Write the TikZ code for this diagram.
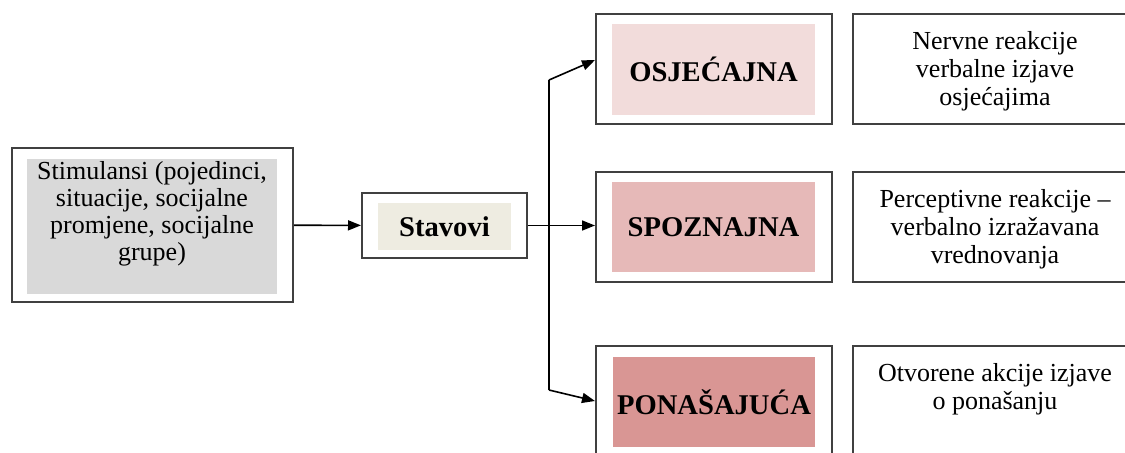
\documentclass[tikz,border=0pt]{standalone}
\usepackage{fontspec}
\setmainfont{Liberation Serif}
\usetikzlibrary{arrows.meta}
\definecolor{frameGray}{HTML}{404040}
\definecolor{stimFill}{HTML}{D9D9D9}
\definecolor{stavFill}{HTML}{EEECE1}
\definecolor{osjFill}{HTML}{F2DCDB}
\definecolor{spozFill}{HTML}{E6B9B8}
\definecolor{ponaFill}{HTML}{D99694}
\newcommand{\frameWidth}[0]{1pt}
\newcommand{\linkWidth}[0]{0.8pt}

\begin{document}
\begin{tikzpicture}[x=0.5pt, y=-0.5pt]
  \tikzset{
    frame/.style={draw=frameGray, line width=\frameWidth, fill=white, inner sep=0pt},
    panel/.style={inner sep=0pt, align=center, font=\fontsize{13}{13.5}\selectfont},
    title panel/.style={panel, font=\fontsize{14.3}{16}\selectfont\bfseries},
    desc text/.style={inner sep=0pt, align=center, anchor=north, font=\fontsize{13}{14}\selectfont},
    link/.style={line width=\linkWidth, -{Triangle[length=6.5pt,width=5pt]}}
  }
  \useasboundingbox (0,0) rectangle (1125,452);
  \clip (0,0) rectangle (1125,452);
  % left side
  \node[frame, minimum width=140.5pt, minimum height=77pt] (stim-1) at (152.5,225) {};
  \node[panel, fill=stimFill, minimum width=125pt, minimum height=67.5pt] (stim-1-in) at (152,226.5) {};
  \node[panel] (stim-1-text) at (152,214)
    {Stimulansi (pojedinci,\\situacije, socijalne\\promjene, socijalne\\grupe)};
  \node[frame, minimum width=82.5pt, minimum height=32.5pt] (stav-1) at (444.5,225.5) {};
  \node[title panel, fill=stavFill, minimum width=66.5pt, minimum height=23.5pt] (stav-1-in) at (444.5,226.5) {Stavovi};
  % the three components
  \node[frame, minimum width=118pt, minimum height=55pt] (osj-1) at (714,69) {};
  \node[title panel, fill=osjFill, minimum width=101.5pt, minimum height=45.5pt] (osj-1-in) at (713.5,69.5) {OSJEĆAJNA};
  \node[frame, minimum width=118pt, minimum height=55pt] (spoz-1) at (714,227) {};
  \node[title panel, fill=spozFill, minimum width=101.5pt, minimum height=45pt] (spoz-1-in) at (713.5,227) {SPOZNAJNA};
  \node[frame, minimum width=118pt, minimum height=55pt] (pona-1) at (714,401) {};
  \node[title panel, fill=ponaFill, minimum width=101pt, minimum height=45pt] (pona-1-in) at (714,402) {PONAŠAJUĆA};
  % descriptions
  \node[frame, minimum width=142pt, minimum height=55pt] (desc-1) at (995,69) {};
  \node[desc text] (desc-1-text) at ([yshift=-9pt] desc-1.north) {Nervne reakcije\\verbalne izjave\\osjećajima};
  \node[frame, minimum width=142pt, minimum height=55pt] (desc-2) at (995,227) {};
  \node[desc text] (desc-2-text) at ([yshift=-9pt] desc-2.north) {Perceptivne reakcije –\\verbalno izražavana\\vrednovanja};
  \node[frame, minimum width=142pt, minimum height=55pt] (desc-3) at (995,401) {};
  \node[desc text] (desc-3-text) at ([yshift=-9pt] desc-3.north) {Otvorene akcije izjave\\o ponašanju};
  % connectors
  \coordinate (fork-1) at (549,80);
  \coordinate (fork-2) at (549,390);
  \draw[link] (stim-1) -- (stav-1);
  \draw[link] (stav-1.east) -- (stav-1.east -| spoz-1.west);
  \draw[line width=\linkWidth] (fork-1) -- (fork-2);
  \draw[link] (fork-1) -- ([yshift=4.5pt] osj-1.west);
  \draw[link] (fork-2) -- (pona-1.west);
\end{tikzpicture}
\end{document}
